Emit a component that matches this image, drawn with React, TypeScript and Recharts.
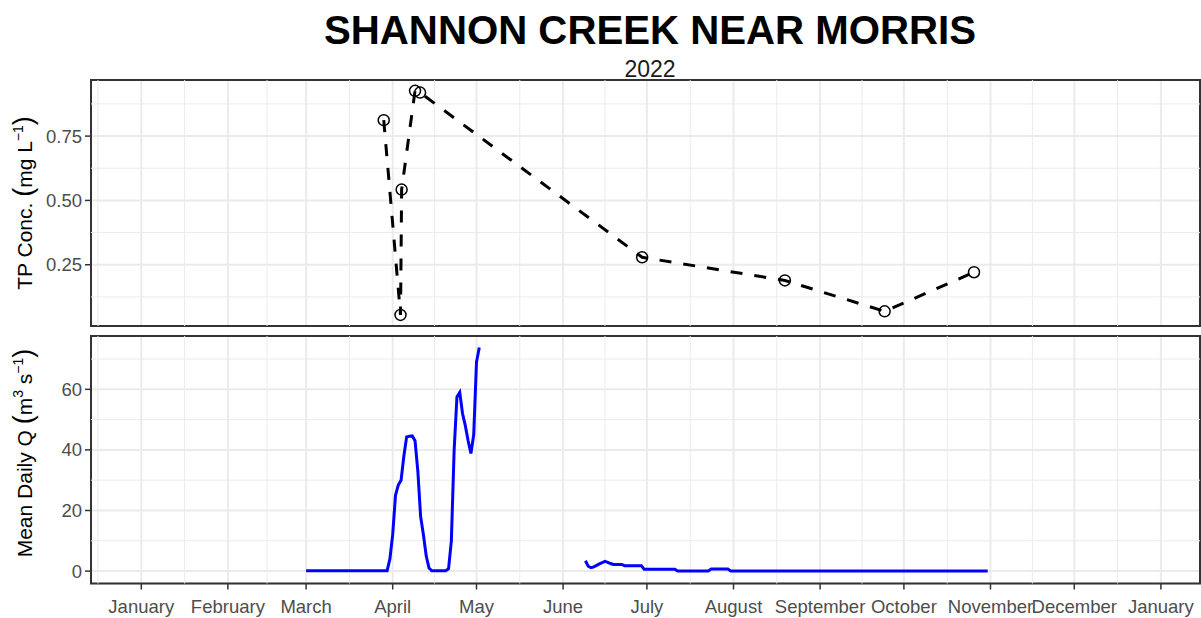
import { CartesianGrid, Line, LineChart, ReferenceArea, ReferenceLine, XAxis, YAxis } from 'recharts';

// x values are days since 1 Jan 2022
const monthTicks = [0, 31, 59, 90, 120, 151, 181, 212, 243, 273, 304, 334, 365];
const monthLabels = [
  'January', 'February', 'March', 'April', 'May', 'June',
  'July', 'August', 'September', 'October', 'November', 'December', 'January',
];
const minorDayTicks = [-15.5, 15.5, 45, 74.5, 105, 135.5, 166, 196.5, 227.5, 258, 288.5, 319, 349.5];
const xDomain = [-18, 379];

// TP concentration samples
const tpDays = [86.8, 92.8, 93.2, 98.0, 99.8, 179.3, 230.4, 266.1, 298.1];
const tpValues = [0.812, 0.055, 0.542, 0.926, 0.919, 0.279, 0.189, 0.069, 0.221];
const tpTicks = [0.25, 0.5, 0.75];
const tpMinor = [0.125, 0.375, 0.625, 0.875];
const tpDomain = [0.012, 0.968];

// mean daily flow (flat runs given by their end points, null = gap)
const flowDays = [
  59, 88, 89, 90, 91, 92, 93, 94, 95, 96, 97, 98, 99, 100, 101, 102, 103, 104, 109, 110,
  111, 112, 113, 114, 115, 116, 117, 118, 119, 120, 121,
  140,
  159, 160, 161, 162, 163, 164, 165, 166, 167, 168, 169, 172, 173, 179, 180, 191, 192, 203,
  204, 210, 211, 303,
];
const flowValues: (number | null)[] = [
  0.1, 0.1, 4, 12, 25, 28.4, 30, 38, 44.3, 44.5, 44.6, 43, 33, 18, 12, 5, 1, 0.1, 0.1, 0.8,
  10, 40, 57.5, 59, 52, 48, 43, 38.8, 45, 69, 73.8,
  null,
  3.4, 1.6, 1.1, 1.4, 1.9, 2.4, 2.8, 3.2, 2.9, 2.5, 2.2, 2.2, 1.8, 1.8, 0.6, 0.6, 0.05, 0.05,
  0.65, 0.65, 0.05, 0.05,
];
const flowTicks = [0, 20, 40, 60];
const flowMinor = [10, 30, 50, 70];
const flowDomain = [-4.1, 77.6];

const FONT = '"Liberation Sans", Arial, sans-serif';
const GRID = '#EBEBEB';
const BORDER = '#333333';

const tpData = tpDays.map((d, i) => ({ day: d, tp: tpValues[i] }));
const flowData = flowDays.map((d, i) => ({ day: d, q: flowValues[i] }));

const tickStyle = { fill: '#4D4D4D', fontSize: 18.5, fontFamily: FONT };

export default function App() {
  return (
    <div style={{ position: 'absolute', left: 0, top: 0, width: 1201, height: 618, background: '#fff', fontFamily: FONT }}>
      <div style={{ position: 'absolute', left: 0, top: 0 }}>
        <LineChart width={1201} height={330} data={tpData} margin={{ top: 80, right: 1, bottom: 4, left: 0 }}>
          <CartesianGrid stroke={GRID} strokeWidth={2} />
          {minorDayTicks.map((v) => (
            <ReferenceLine key={'x' + v} x={v} stroke={GRID} strokeWidth={1} />
          ))}
          {tpMinor.map((v) => (
            <ReferenceLine key={'y' + v} y={v} stroke={GRID} strokeWidth={1} />
          ))}
          <XAxis dataKey="day" type="number" domain={xDomain} ticks={monthTicks} allowDataOverflow hide />
          <YAxis
            type="number"
            domain={tpDomain}
            ticks={tpTicks}
            allowDataOverflow
            width={91}
            axisLine={false}
            tickSize={6}
            tickMargin={3}
            tickLine={{ stroke: BORDER, strokeWidth: 1.5 }}
            tick={tickStyle}
            tickFormatter={(v: number) => v.toFixed(2)}
          />
          <ReferenceArea x1={xDomain[0]} x2={xDomain[1]} y1={tpDomain[0]} y2={tpDomain[1]} fill="none" fillOpacity={0} stroke={BORDER} strokeWidth={2} />
          <Line
            dataKey="tp"
            stroke="#000"
            strokeWidth={3}
            strokeDasharray="12 12"
            dot={{ r: 5.5, stroke: '#000', strokeWidth: 1.5, fill: 'none', strokeDasharray: '0' }}
            isAnimationActive={false}
          />
        </LineChart>
      </div>
      <div style={{ position: 'absolute', left: 0, top: 330 }}>
        <LineChart width={1201} height={288} data={flowData} margin={{ top: 6, right: 1, bottom: 0, left: 0 }}>
          <CartesianGrid stroke={GRID} strokeWidth={2} />
          {minorDayTicks.map((v) => (
            <ReferenceLine key={'x' + v} x={v} stroke={GRID} strokeWidth={1} />
          ))}
          {flowMinor.map((v) => (
            <ReferenceLine key={'y' + v} y={v} stroke={GRID} strokeWidth={1} />
          ))}
          <XAxis
            dataKey="day"
            type="number"
            domain={xDomain}
            ticks={monthTicks}
            allowDataOverflow
            height={34.5}
            axisLine={false}
            tickSize={6}
            tickMargin={10}
            tickLine={{ stroke: BORDER, strokeWidth: 1.5 }}
            tick={tickStyle}
            interval={0}
            tickFormatter={(v: number) => monthLabels[monthTicks.indexOf(v)] ?? ''}
          />
          <YAxis
            type="number"
            domain={flowDomain}
            ticks={flowTicks}
            allowDataOverflow
            width={91}
            axisLine={false}
            tickSize={6}
            tickMargin={3}
            tickLine={{ stroke: BORDER, strokeWidth: 1.5 }}
            tick={tickStyle}
          />
          <ReferenceArea x1={xDomain[0]} x2={xDomain[1]} y1={flowDomain[0]} y2={flowDomain[1]} fill="none" fillOpacity={0} stroke={BORDER} strokeWidth={2} />
          <Line dataKey="q" stroke="#0000FF" strokeWidth={3} dot={false} connectNulls={false} isAnimationActive={false} />
        </LineChart>
      </div>
      <svg width={1201} height={618} style={{ position: 'absolute', left: 0, top: 0, pointerEvents: 'none' }}>
        <text x={650} y={44} textAnchor="middle" fontSize={40.2} fontWeight="bold" fontFamily={FONT} fill="#000">
          SHANNON CREEK NEAR MORRIS
        </text>
        <text x={650} y={77} textAnchor="middle" fontSize={23} fontFamily={FONT} fill="#1a1a1a">
          2022
        </text>
        <text transform="translate(32,203) rotate(-90)" textAnchor="middle" fontSize={21} fontFamily={FONT} fill="#000">
          TP Conc. <tspan fontSize={27}>(</tspan>
          <tspan>mg L</tspan>
          <tspan fontSize={14} dy={-9}>−1</tspan>
          <tspan fontSize={27} dy={9}>)</tspan>
        </text>
        <text transform="translate(32,453) rotate(-90)" textAnchor="middle" fontSize={21} fontFamily={FONT} fill="#000">
          Mean Daily Q <tspan fontSize={27}>(</tspan>
          <tspan>m</tspan>
          <tspan fontSize={14} dy={-9}>3</tspan>
          <tspan dy={9}> s</tspan>
          <tspan fontSize={14} dy={-9}>−1</tspan>
          <tspan fontSize={27} dy={9}>)</tspan>
        </text>
      </svg>
    </div>
  );
}
